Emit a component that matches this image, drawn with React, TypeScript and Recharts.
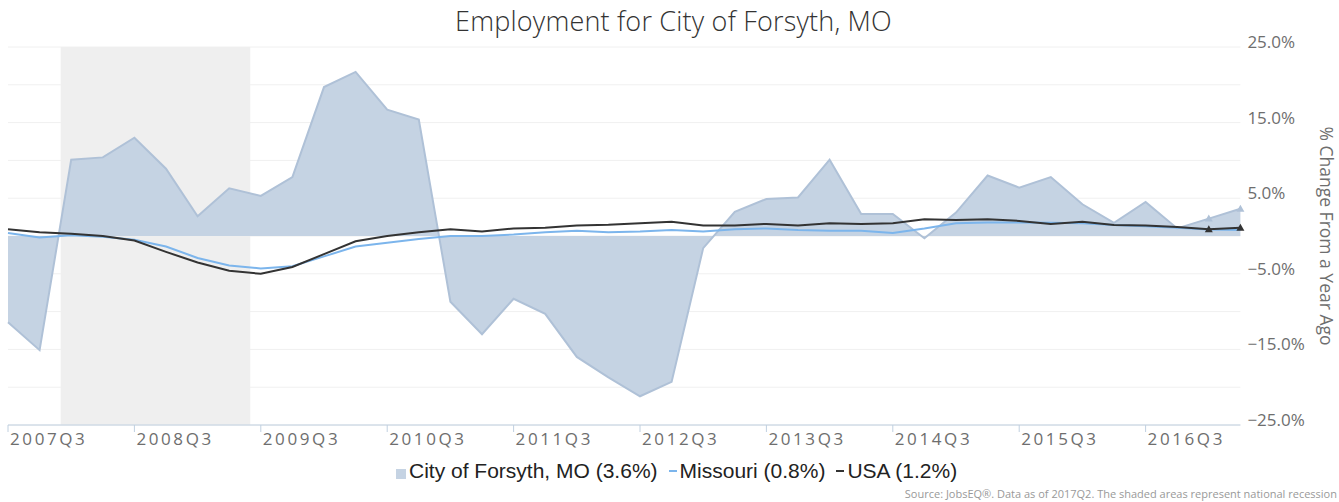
import React from 'react'
import {
  ComposedChart,
  Area,
  Line,
  XAxis,
  YAxis,
  CartesianGrid,
  ReferenceArea,
} from 'recharts'

// ── Data ──────────────────────────────────────────────────────────────────────

const quarters = [
  '2007Q3', '2007Q4', '2008Q1', '2008Q2', '2008Q3', '2008Q4', '2009Q1', '2009Q2',
  '2009Q3', '2009Q4', '2010Q1', '2010Q2', '2010Q3', '2010Q4', '2011Q1', '2011Q2',
  '2011Q3', '2011Q4', '2012Q1', '2012Q2', '2012Q3', '2012Q4', '2013Q1', '2013Q2',
  '2013Q3', '2013Q4', '2014Q1', '2014Q2', '2014Q3', '2014Q4', '2015Q1', '2015Q2',
  '2015Q3', '2015Q4', '2016Q1', '2016Q2', '2016Q3', '2016Q4', '2017Q1', '2017Q2',
]

// % change from a year ago
const forsyth = [
  -11.4, -15.1, 10.1, 10.4, 13.0, 8.9, 2.6, 6.3, 5.3, 7.8,
  19.7, 21.7, 16.7, 15.4, -8.7, -13.0, -8.3, -10.3, -16.0, -18.7,
  -21.2, -19.3, -1.6, 3.2, 4.9, 5.1, 10.1, 2.9, 2.9, -0.3,
  3.1, 8.0, 6.4, 7.8, 4.2, 1.75, 4.5, 1.0, 2.3, 3.6,
]

const missouri = [
  0.4, -0.2, 0.1, -0.1, -0.5, -1.4, -2.9, -3.9, -4.3, -4.0,
  -2.7, -1.4, -0.9, -0.4, 0.0, 0.0, 0.2, 0.5, 0.7, 0.5,
  0.6, 0.8, 0.6, 0.9, 1.0, 0.8, 0.7, 0.7, 0.4, 1.0,
  1.7, 1.8, 1.8, 1.75, 1.7, 1.45, 1.3, 1.1, 0.85, 0.8,
]

const usa = [
  0.9, 0.5, 0.3, 0.0, -0.6, -2.1, -3.5, -4.6, -5.0, -4.1,
  -2.4, -0.7, 0.0, 0.5, 0.9, 0.6, 1.0, 1.1, 1.4, 1.5,
  1.7, 1.9, 1.4, 1.4, 1.6, 1.4, 1.7, 1.6, 1.7, 2.2,
  2.1, 2.2, 2.0, 1.6, 1.9, 1.45, 1.4, 1.2, 0.9, 1.1,
]

const xTicks = [0, 4, 8, 12, 16, 20, 24, 28, 32, 36]
const yGrid = [-25, -20, -15, -10, -5, 0, 5, 10, 15, 20, 25]
const yLabels = [-25, -15, -5, 5, 15, 25]

// national recession Dec 2007 – Jun 2009, in months after Jul 2007
const recessionStartMonth = 5
const recessionEndMonth = 23

const data = quarters.map((q, i) => ({
  x: i,
  quarter: q,
  forsyth: forsyth[i],
  missouri: missouri[i],
  usa: usa[i],
}))

// ── Styles ────────────────────────────────────────────────────────────────────

const FONT = '"Open Sans", "Noto Sans", sans-serif'
const AREA_FILL = '#c5d3e3'
const AREA_LINE = '#afc1d7'
const MO_BLUE = '#7cb5ec'
const USA_DARK = '#333333'
const AXIS = '#c0d0e0'
const GRID = '#f0f0f0'
const LABEL = '#6e6e6e'

const W = 1339
const H = 502

// ── Ticks ─────────────────────────────────────────────────────────────────────

function XTick({ x, y, payload }: any) {
  return (
    <text
      x={x + 2}
      y={y + 7}
      dy="0.35em"
      textAnchor="start"
      fill={LABEL}
      fontSize={17}
      letterSpacing={2.6}
      fontFamily={FONT}
    >
      {quarters[payload.value]}
    </text>
  )
}

function YTick({ x, y, payload }: any) {
  const v: number = payload.value
  if (!yLabels.includes(v)) return <g />
  const txt = (v < 0 ? '\u2212' : '') + Math.abs(v).toFixed(1) + '%'
  return (
    <text x={x + 7} y={y - 5} dy="0.35em" textAnchor="start" fill={LABEL} fontSize={17} fontFamily={FONT}>
      {txt}
    </text>
  )
}

function Triangle({ cx, cy, index, color }: any) {
  if (index < quarters.length - 2) return <g key={index} />
  return (
    <path
      key={index}
      d={`M${cx},${cy - 4} L${cx + 4},${cy + 3} L${cx - 4},${cy + 3} Z`}
      fill={color}
    />
  )
}

// ── Chart ─────────────────────────────────────────────────────────────────────

export default function App() {
  return (
    <div style={{ position: 'absolute', left: 0, top: 0, width: W, height: H, background: '#fff', fontFamily: FONT }}>
      <div
        style={{
          position: 'absolute',
          top: 2,
          left: 0,
          width: W + 8,
          textAlign: 'center',
          fontSize: 27,
          fontWeight: 300,
          color: '#333',
          letterSpacing: 0.2,
        }}
      >
        Employment for City of Forsyth, MO
      </div>

      <ComposedChart
        width={W}
        height={H}
        data={data}
        margin={{ top: 47, right: 0, bottom: 47, left: 8 }}
      >
        <CartesianGrid horizontal vertical={false} stroke={GRID} horizontalValues={yGrid} />
        <ReferenceArea
          x1={recessionStartMonth / 3}
          x2={recessionEndMonth / 3}
          y1={-25}
          y2={25}
          fill="#efefef"
          fillOpacity={1}
          stroke="none"
          ifOverflow="hidden"
        />
        <XAxis
          dataKey="x"
          type="number"
          domain={[0, quarters.length - 1]}
          ticks={xTicks}
          interval={0}
          height={30}
          stroke={AXIS}
          tickLine={{ stroke: AXIS }}
          tickSize={7}
          tickMargin={0}
          tick={<XTick />}
        />
        <YAxis
          orientation="right"
          type="number"
          domain={[-25, 25]}
          ticks={yGrid}
          interval={0}
          width={98.6}
          axisLine={false}
          tickLine={false}
          tickSize={0}
          tickMargin={0}
          tick={<YTick />}
          label={{
            value: '% Change From a Year Ago',
            angle: 90,
            position: 'insideRight',
            dx: -8,
            style: { fill: LABEL, fontSize: 17.5, fontFamily: FONT, textAnchor: 'middle' },
          }}
        />
        <Area
          type="linear"
          dataKey="forsyth"
          baseValue={0}
          fill={AREA_FILL}
          fillOpacity={1}
          stroke={AREA_LINE}
          strokeWidth={2}
          dot={(p: any) => <Triangle {...p} color={AREA_LINE} />}
          activeDot={false}
          isAnimationActive={false}
        />
        <Line
          type="linear"
          dataKey="missouri"
          stroke={MO_BLUE}
          strokeWidth={2}
          dot={false}
          activeDot={false}
          isAnimationActive={false}
        />
        <Line
          type="linear"
          dataKey="usa"
          stroke={USA_DARK}
          strokeWidth={2}
          dot={(p: any) => <Triangle {...p} color={USA_DARK} />}
          activeDot={false}
          isAnimationActive={false}
        />
      </ComposedChart>

      <div
        style={{
          position: 'absolute',
          top: 459,
          left: 396,
          display: 'flex',
          alignItems: 'center',
          fontFamily: '"Liberation Sans", Arial, sans-serif',
          fontSize: 21,
          color: '#222',
          whiteSpace: 'nowrap',
        }}
      >
        <span style={{ display: 'inline-block', width: 10, height: 10, background: AREA_FILL, marginTop: 6, marginRight: 3 }} />
        <span>City of Forsyth, MO (3.6%)</span>
        <span style={{ display: 'inline-block', width: 8, height: 2, background: MO_BLUE, marginLeft: 11, marginRight: 3 }} />
        <span>Missouri (0.8%)</span>
        <span style={{ display: 'inline-block', width: 8, height: 2, background: USA_DARK, marginLeft: 11, marginRight: 3 }} />
        <span>USA (1.2%)</span>
      </div>

      <div
        style={{
          position: 'absolute',
          top: 486,
          right: 2,
          fontSize: 11,
          color: '#999',
          whiteSpace: 'nowrap',
        }}
      >
        Source: JobsEQ®. Data as of 2017Q2. The shaded areas represent national recession
      </div>
    </div>
  )
}
